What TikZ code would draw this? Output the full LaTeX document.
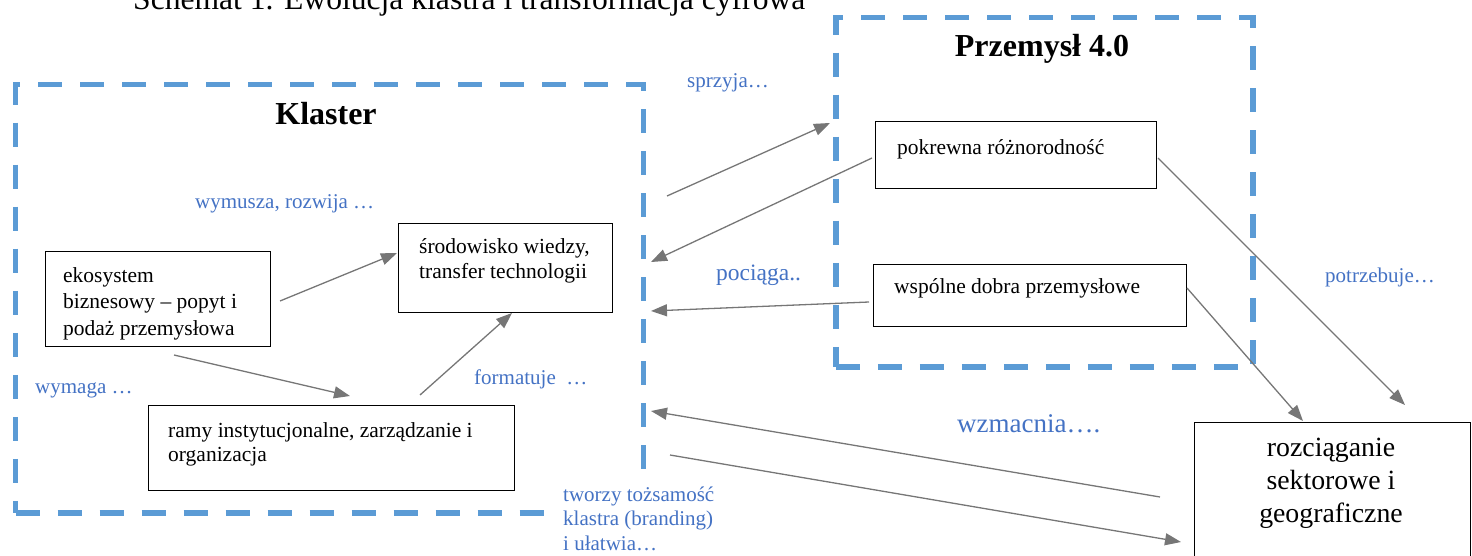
\documentclass[tikz,border=0pt]{standalone}
\usepackage{fontspec}
\setmainfont{Liberation Serif}
\usetikzlibrary{arrows.meta}
\definecolor{dashblue}{RGB}{91,155,213}
\definecolor{lblue}{RGB}{68,114,196}
\definecolor{arrgray}{RGB}{118,118,118}
\begin{document}
\begin{tikzpicture}[x=1pt,y=-1pt,
  frame/.style={draw=dashblue,line width=5.5pt,dash pattern=on 24pt off 18pt,anchor=north west,inner sep=0pt},
  box/.style={draw=black,line width=1.3pt,anchor=north west,inner sep=0pt},
  txt/.style={anchor=base west,inner sep=0pt,align=left,font=\fontsize{21.5}{26}\selectfont},
  lbl/.style={anchor=base west,inner sep=0pt,align=left,text=lblue,font=\fontsize{21}{24.5}\selectfont},
  head/.style={anchor=base,inner sep=0pt,font=\fontsize{32}{36}\selectfont\bfseries},
  arr/.style={draw=arrgray,line width=1.3pt,-{Triangle[length=16pt,width=12pt]}},
]
\useasboundingbox (0,0) rectangle (1472,556);
\clip (0,0) rectangle (1472,556);

% title (cut off at the top, as in the reference)
\node[anchor=base west,inner sep=0pt,font=\fontsize{31.6}{36}\selectfont] (title) at (133,10) {Schemat 1. Ewolucja klastra i transformacja cyfrowa};

% dashed frames
\node[frame,minimum width=628pt,minimum height=428pt] (klasterframe) at (12.8,82) {};
\node[frame,minimum width=417pt,minimum height=349pt] (przemyslframe) at (833,15) {};
\node[head] (klaster) at (326,125) {Klaster};
\node[head] (przemysl) at (1042,57) {Przemysł 4.0};

% boxes
\node[box,minimum width=225pt,minimum height=95pt] (eko) at (45,251) {};
\node[box,minimum width=214pt,minimum height=89pt] (sro) at (398,223) {};
\node[box,minimum width=366pt,minimum height=85pt] (ramy) at (148,405) {};
\node[box,minimum width=281pt,minimum height=67pt] (pok) at (875,121) {};
\node[box,minimum width=313pt,minimum height=62pt] (wsp) at (873,264) {};
\node[box,minimum width=276pt,minimum height=150pt] (roz) at (1194,422) {};

% box texts (multi-line: base = last line)
\node[txt,font=\fontsize{21.5}{26.5}\selectfont] (ekot) at (63,335) {ekosystem\\biznesowy – popyt i\\podaż przemysłowa};
\node[txt,font=\fontsize{21.5}{25}\selectfont] (srot) at (419,278) {środowisko wiedzy,\\transfer technologii};
\node[txt,font=\fontsize{21.5}{24}\selectfont] (ramyt) at (168,461) {ramy instytucjonalne, zarządzanie i\\organizacja};
\node[txt] (pokt) at (897,155) {pokrewna różnorodność};
\node[txt] (wspt) at (894,293) {wspólne dobra przemysłowe};
\node[anchor=base,inner sep=0pt,align=center,font=\fontsize{27.8}{33}\selectfont] (rozt) at (1331,522) {rozciąganie\\sektorowe i\\geograficzne};

% labels
\node[lbl] (l1) at (195,208) {wymusza, rozwija …};
\node[lbl] (l2) at (35,393) {wymaga …};
\node[lbl] (l3) at (474,384) {formatuje~ …};
\node[lbl] (l4) at (687,88) {sprzyja…};
\node[lbl,font=\fontsize{23.5}{27}\selectfont] (l5) at (716,280) {pociąga..};
\node[lbl] (l6) at (1325,282) {potrzebuje…};
\node[lbl,font=\fontsize{27}{30}\selectfont] (l7) at (957,432) {wzmacnia….};
\node[lbl,fill=white,inner xsep=18pt,inner ysep=11pt] (l8) at (545,550) {tworzy tożsamość\\klastra (branding)\\i ułatwia…};

% connector end points
\coordinate (a1s) at (280,301);  \coordinate (a1e) at (397,253);
\coordinate (a2s) at (174,355);  \coordinate (a2e) at (350,396);
\coordinate (a3s) at (420,395);  \coordinate (a3e) at (512,313);
\coordinate (a4s) at (667,196);  \coordinate (a4e) at (830,123);
\coordinate (a5s) at (872,158);  \coordinate (a5e) at (651,262);
\coordinate (a6s) at (869,302);  \coordinate (a6e) at (651,311);
\coordinate (a7s) at (1158,158); \coordinate (a7e) at (1405,405);
\coordinate (a8s) at (1187,288); \coordinate (a8e) at (1303,421);
\coordinate (a9s) at (1160,497); \coordinate (a9e) at (651,411);
\coordinate (a10s) at (670,455); \coordinate (a10e) at (1181,542);

\draw[arr] (a1s) -- (a1e);
\draw[arr] (a2s) -- (a2e);
\draw[arr] (a3s) -- (a3e);
\draw[arr] (a4s) -- (a4e);
\draw[arr] (a5s) -- (a5e);
\draw[arr] (a6s) -- (a6e);
\draw[arr] (a7s) -- (a7e);
\draw[arr] (a8s) -- (a8e);
\draw[arr] (a9s) -- (a9e);
\draw[arr] (a10s) -- (a10e);
\end{tikzpicture}
\end{document}
